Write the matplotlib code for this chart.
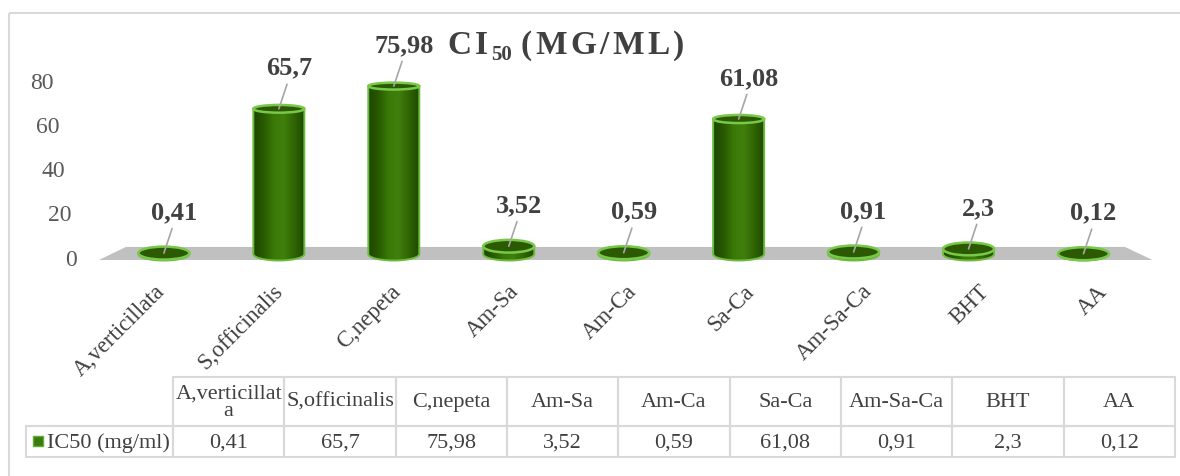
import textwrap
import numpy as np
import matplotlib
matplotlib.use("Agg")
import matplotlib.pyplot as plt
from matplotlib.patches import Polygon, Ellipse, Rectangle
from matplotlib.colors import LinearSegmentedColormap
from matplotlib import transforms

plt.rcParams['font.family'] = ['Liberation Serif', 'DejaVu Serif']

# data
categories = ['A,verticillata', 'S,officinalis', 'C,nepeta', 'Am-Sa', 'Am-Ca',
              'Sa-Ca', 'Am-Sa-Ca', 'BHT', 'AA']
ic50 = [0.41, 65.7, 75.98, 3.52, 0.59, 61.08, 0.91, 2.3, 0.12]
series_name = 'IC50 (mg/ml)'
yticks = [0, 20, 40, 60, 80]

W, H = 1180, 477
fig = plt.figure(figsize=(W / 100, H / 100), dpi=100)

# pixel scale of the plot (x: per category, y: per unit)
XS, YS = 114.95, 2.21
X0, Y0 = 163.9, 255          # pixel position of category 0 / value 0
ax_top, ax_bot = 0, 300
ax = fig.add_axes([0, (H - ax_bot) / H, 1, (ax_bot - ax_top) / H])
ax.set_facecolor('none')
ax.axis('off')
xlim = ((0 - X0) / XS, (W - X0) / XS)
ylim = ((Y0 - ax_bot) / YS, (Y0 - ax_top) / YS)

n = len(categories)
label_col = '#404040'

# floor
floor = Polygon([(-0.565, -2.7), (-0.33, 3.2), (n - 1 + 0.36, 3.2), (n - 1 + 0.6, -2.7)],
                closed=True, facecolor='#c0c0c0', edgecolor='none', zorder=1)
ax.add_patch(floor)

cmap = LinearSegmentedColormap.from_list(
    'cyl', ['#1d4500', '#285900', '#3a7808', '#417f0d', '#306604', '#1f4a00'])
grad = np.linspace(0, 1, 256).reshape(1, -1)
rim = '#6cbb3e'

for i, v in enumerate(ic50):
    w = 51 / XS
    hb = 13 / YS
    ht = (13 - 0.08 * v) / YS
    t = np.linspace(np.pi, 2 * np.pi, 60)
    pts = list(zip(i + w / 2 * np.cos(t), hb / 2 * np.sin(t)))
    pts += [(i + w / 2, v), (i - w / 2, v)]
    body = Polygon(pts, closed=True, facecolor='none', edgecolor=rim, lw=1.4, zorder=4)
    ax.add_patch(body)
    img = ax.imshow(grad, cmap=cmap, extent=[i - w / 2, i + w / 2, -hb / 2, v],
                    aspect='auto', interpolation='bicubic', zorder=3)
    img.set_clip_path(body)
    ax.add_patch(Ellipse((i, v), w, ht, facecolor='#2c5a03', edgecolor='#78c84a',
                         lw=1.8, zorder=5))
    ax.annotate(f'{v:g}'.replace('.', ','), xy=(i, v), xytext=(10, 30),
                textcoords='offset pixels', ha='center', va='bottom',
                fontsize=19, fontweight='bold', color=label_col, zorder=7,
                arrowprops=dict(arrowstyle='-', color='#a6a6a6', lw=1.2,
                                relpos=(0.5, 0), shrinkA=2, shrinkB=0))
    # category label
    off = transforms.offset_copy(ax.transData, fig=fig, x=(-9 + 2.75 * i) * 0.72,
                                 y=-(281 - Y0) * 0.72, units='points')
    ax.text(i, 0, categories[i], rotation=45, rotation_mode='anchor', ha='right',
            va='top', fontsize=16.5, color=label_col, transform=off)

# value axis labels (slanted like the 3D wall)
for v in yticks:
    tr = transforms.blended_transform_factory(fig.transFigure, ax.transData)
    tr = tr + transforms.ScaledTranslation(0, -5 / 100, fig.dpi_scale_trans)
    ax.text((77 - 0.29 * v) / W, v, str(v), ha='right', va='center',
            fontsize=17, color='#595959', transform=tr)

ax.set_xlim(xlim)
ax.set_ylim(ylim)

# overlay in pixel coords: border + table
tax = fig.add_axes([0, 0, 1, 1])
tax.set_xlim(0, W)
tax.set_ylim(H, 0)
tax.axis('off')
tax.set_facecolor('none')
tax.add_patch(Rectangle((9, 14), 1400, 700, fill=False, edgecolor='#d9d9d9', lw=1.5))

grid = '#d9d9d9'
tx0, cw = 173, (1175 - 173) / n
r0, r1, r2 = 378, 427, 458
for i, c in enumerate(categories):
    x = tx0 + i * cw
    tax.add_patch(Rectangle((x, r0), cw, r1 - r0, fill=False, edgecolor=grid, lw=1.5))
    tax.add_patch(Rectangle((x, r1), cw, r2 - r1, fill=False, edgecolor=grid, lw=1.5))
    tax.text(x + cw / 2, (r0 + r1) / 2, '\n'.join(textwrap.wrap(c, 13)),
             ha='center', va='center', fontsize=16, color=label_col, linespacing=0.9)
    tax.text(x + cw / 2, (r1 + r2) / 2 + 1, f'{ic50[i]:g}'.replace('.', ','),
             ha='center', va='center', fontsize=16, color=label_col)
tax.add_patch(Rectangle((26, r1), tx0 - 26, r2 - r1, fill=False, edgecolor=grid, lw=1.5))
tax.add_patch(Rectangle((33, 437), 10, 10, facecolor='#3b7a12', edgecolor='#5fae2e', lw=1))
tax.text(47, (r1 + r2) / 2 + 1, series_name, ha='left', va='center',
         fontsize=16, color=label_col)

# title, letter-spaced with subscript
renderer = fig.canvas.get_renderer()
x = 447
pieces = [('C', 24, 0), ('I', 24, 0), ('50', 15, 6), (' ', 24, 0), ('(', 24, 0),
          ('M', 24, 0), ('G', 24, 0), ('/', 24, 0), ('M', 24, 0), ('L', 24, 0), (')', 24, 0)]
for s, fs, dy in pieces:
    if s == ' ':
        x += 5
        continue
    t = fig.text(x / W, 1 - (54 + dy) / H, s, fontsize=fs, fontweight='bold',
                 color='#404040', ha='left', va='baseline')
    x += t.get_window_extent(renderer).width + 3.5

fig.savefig('out.png', dpi=100)
